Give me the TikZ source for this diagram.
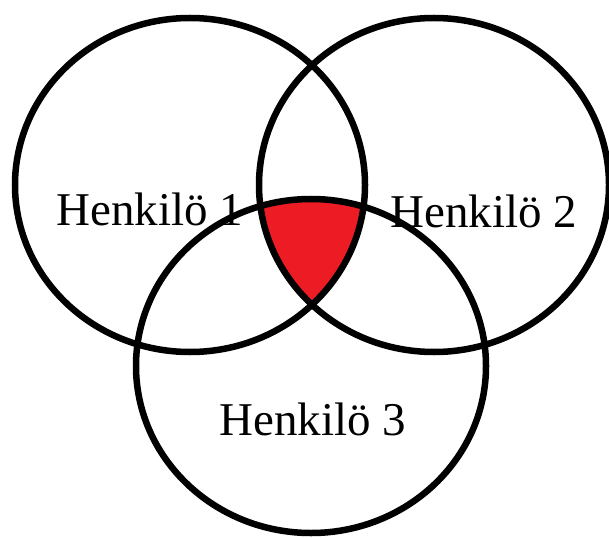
\documentclass[tikz,border=0pt]{standalone}
\usepackage{fontspec}
\setmainfont{Liberation Serif}
\usepackage{xcolor}
\usetikzlibrary{positioning}
\definecolor{overlapred}{HTML}{ED1C24}

\begin{document}
\begin{tikzpicture}[x=1pt, y=-1pt,
                    ringline/.style={draw=black, line width=6.5pt},
                    namebox/.style={font=\fontsize{47}{50}\selectfont, anchor=base, inner sep=0pt}]
                    \useasboundingbox (0,0) rectangle (609,537);
                    \coordinate (c1) at (190,185);
                    \coordinate (c2) at (434,185);
                    \coordinate (c3) at (311,366);
                    % common part of all three
                    \begin{scope}
                        \clip (c1) ellipse [x radius=175, y radius=167];
                        \clip (c2) ellipse [x radius=175, y radius=167];
                        \fill[overlapred] (c3) ellipse [x radius=175, y radius=167];
                    \end{scope}
                    \draw[ringline] (c1) ellipse [x radius=175, y radius=167];
                    \draw[ringline] (c2) ellipse [x radius=175, y radius=167];
                    \draw[ringline] (c3) ellipse [x radius=175, y radius=167];
                    \node[namebox] (h1) at (150,225) {Henkilö 1};
                    \node[namebox] (h2) at (484,227) {Henkilö 2};
                    \node[namebox] (h3) at (313,435) {Henkilö 3};
                \end{tikzpicture}
\end{document}
